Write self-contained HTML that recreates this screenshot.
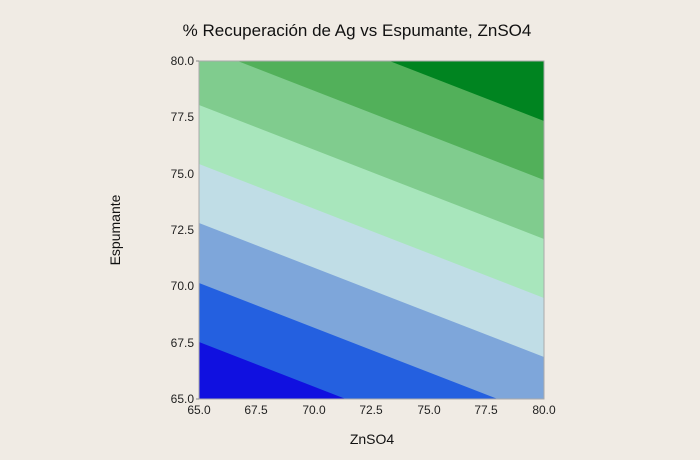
<!DOCTYPE html>
<html><head><meta charset="utf-8"><style>
body{margin:0;background:#f0ebe4;}
svg{display:block;font-family:"Liberation Sans",sans-serif;}
</style></head><body>
<svg width="700" height="460" viewBox="0 0 700 460">
<rect width="700" height="460" fill="#f0ebe4"/>
<defs><clipPath id="c"><rect x="199" y="61" width="345" height="338"/></clipPath></defs>
<g clip-path="url(#c)">
<rect x="199" y="61" width="345" height="338" fill="#008420"/>
<polygon points="199,-13 544,121 544,399 199,399" fill="#52b05a"/>
<polygon points="199,46 544,180 544,399 199,399" fill="#80cc8e"/>
<polygon points="199,105 544,239 544,399 199,399" fill="#a8e6bc"/>
<polygon points="199,164 544,298 544,399 199,399" fill="#c0dde6"/>
<polygon points="199,223 544,357 544,399 199,399" fill="#7ea6da"/>
<polygon points="199,283 544,417 544,399 199,399" fill="#2460e0"/>
<polygon points="199,342 544,476 544,399 199,399" fill="#1010e0"/>
</g>
<rect x="199" y="61" width="345" height="338" fill="none" stroke="#aaa" stroke-width="1"/>
<text x="357" y="36" text-anchor="middle" font-size="17" fill="#111">% Recuperación de Ag vs Espumante, ZnSO4</text>
<g font-size="12" fill="#222" text-anchor="end">
<text x="194" y="65">80.0</text><text x="194" y="121">77.5</text><text x="194" y="178">75.0</text>
<text x="194" y="234">72.5</text><text x="194" y="290">70.0</text><text x="194" y="347">67.5</text><text x="194" y="403">65.0</text>
</g>
<g font-size="12" fill="#222" text-anchor="middle">
<text x="199" y="414">65.0</text><text x="256" y="414">67.5</text><text x="314" y="414">70.0</text>
<text x="371" y="414">72.5</text><text x="429" y="414">75.0</text><text x="486" y="414">77.5</text><text x="544" y="414">80.0</text>
</g>
<g stroke="#888"><line x1="196" y1="61" x2="199" y2="61"/><line x1="196" y1="399" x2="199" y2="399"/></g>
<text x="372" y="444" text-anchor="middle" font-size="14" fill="#111">ZnSO4</text>
<text transform="translate(120,230) rotate(-90)" text-anchor="middle" font-size="14" fill="#111">Espumante</text>
</svg>
</body></html>
